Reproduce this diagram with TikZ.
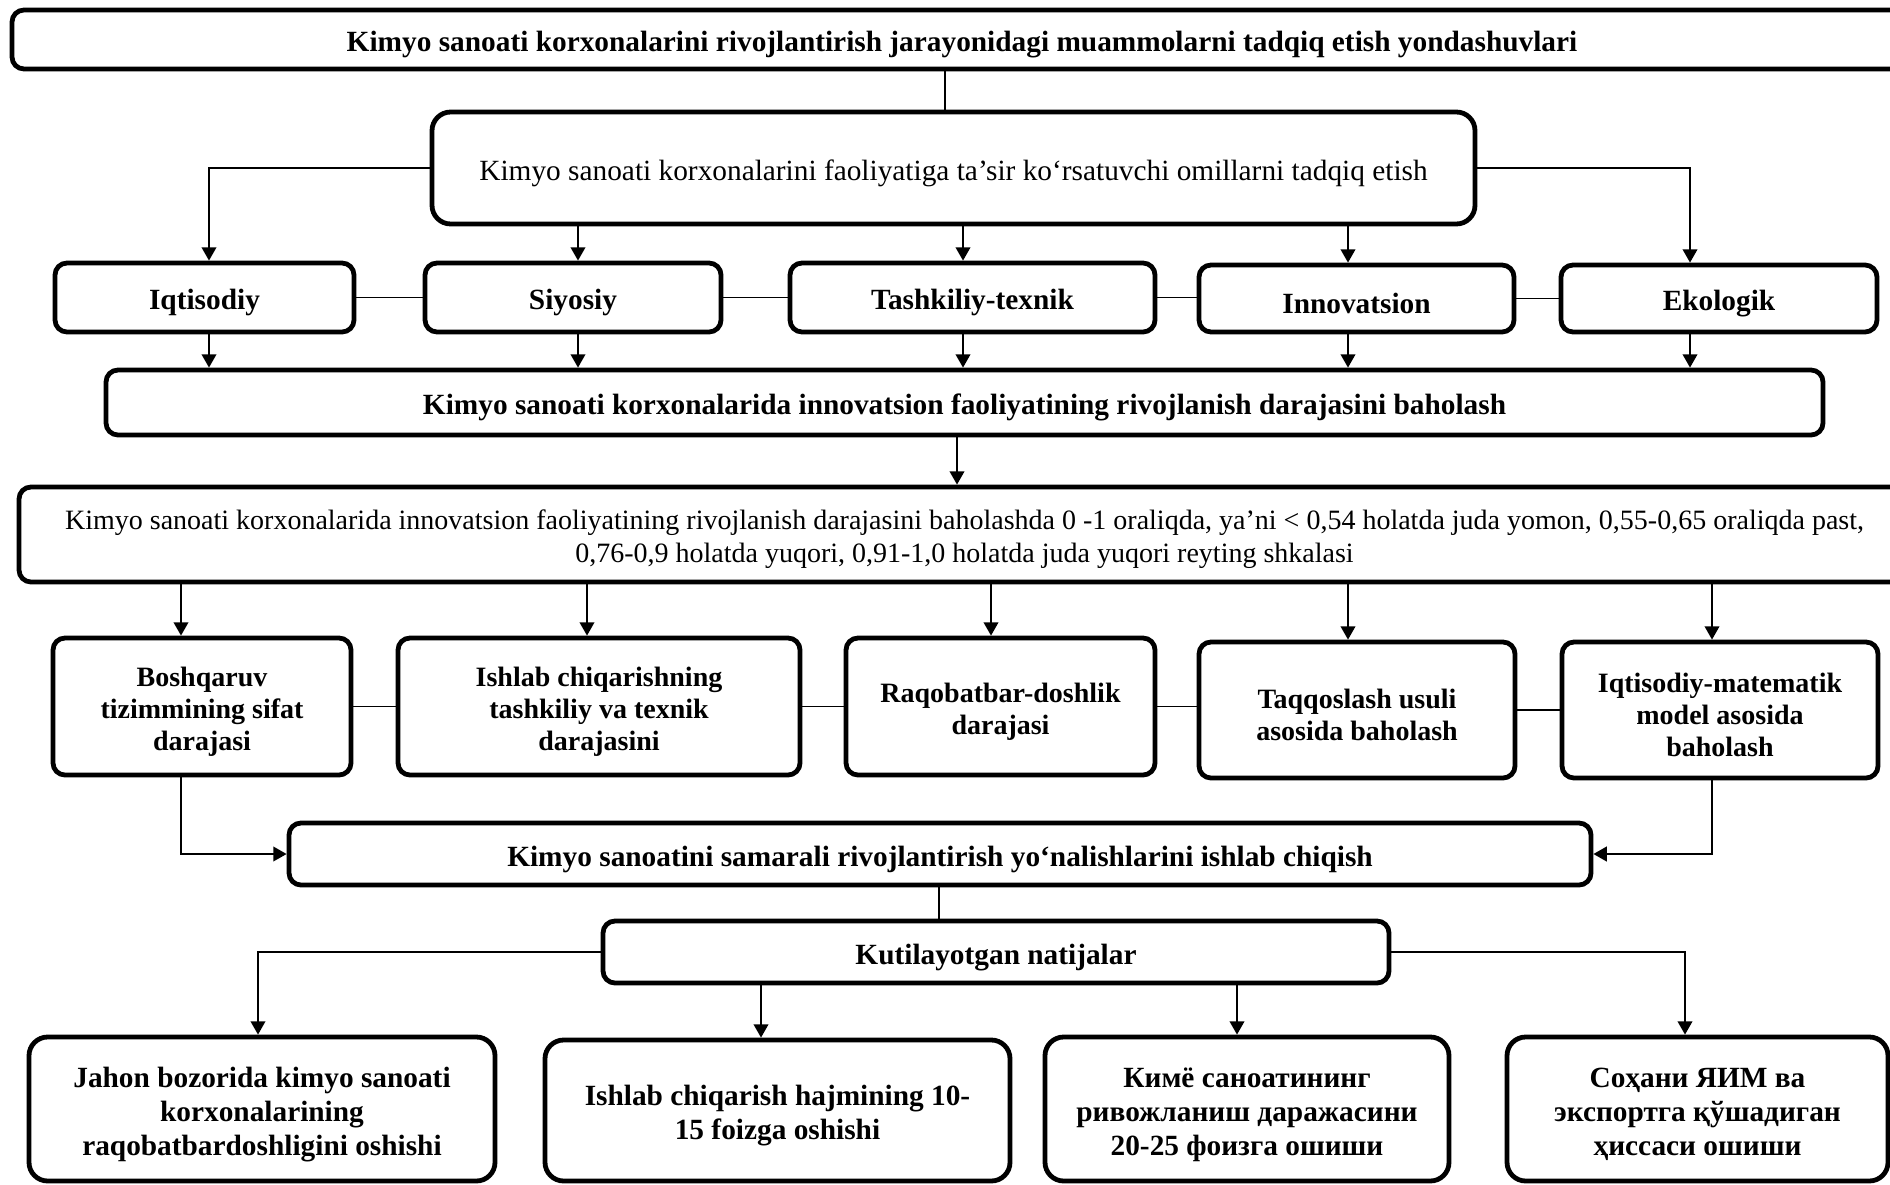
\documentclass[tikz,border=0pt]{standalone}
\usepackage{fontspec}
\setmainfont{Liberation Serif}
\usetikzlibrary{arrows.meta}
% a tall zero-width strut that lowers the text in its box a little
\newcommand\tallstrut{\rule{0pt}{1.05em}}
\begin{document}
\begin{tikzpicture}[x=0.75pt,y=-0.75pt,
  % a box given by its corners x1/y1/x2/y2
  span/.style args={#1/#2/#3/#4}{minimum width={(#3-#1)*0.75pt},
    minimum height={(#4-#2)*0.75pt}, at={({(#1+#3)/2},{(#2+#4)/2})}},
  box/.style={draw,line width=3.6pt,rounded corners=9pt,inner sep=0pt,align=center,
    font=\fontsize{22}{24}\selectfont\bfseries},
  plainbox/.style={box,font=\fontsize{22}{25}\selectfont},
  midbox/.style={box,font=\fontsize{21}{24}\selectfont\bfseries},
  bigbox/.style={box,rounded corners=14pt,font=\fontsize{22}{25.5}\selectfont\bfseries},
  link/.style={line width=1.4pt},
  arr/.style={link,-{Triangle[length=10pt,width=11pt]}}]
\useasboundingbox (0,0) rectangle (1890,1184);
\clip (0,0) rectangle (1890,1184);

% column positions of the vertical connectors
\coordinate (c0) at (945,0);
\coordinate (k1) at (209,0);
\coordinate (k2) at (578,0);
\coordinate (k3) at (963,0);
\coordinate (k4) at (1348,0);
\coordinate (k5) at (1690,0);
\coordinate (m)  at (957,0);
\coordinate (r1) at (181,0);
\coordinate (r2) at (587,0);
\coordinate (r3) at (991,0);
\coordinate (r4) at (1348,0);
\coordinate (r5) at (1712,0);
\coordinate (n)  at (939,0);
\coordinate (p1) at (258,0);
\coordinate (p2) at (761,0);
\coordinate (p3) at (1237,0);
\coordinate (p4) at (1685,0);

% header
\node[box,span=12/10/1912/69] (top)
  {\tallstrut Kimyo sanoati korxonalarini rivojlantirish jarayonidagi muammolarni tadqiq etish yondashuvlari};
\node[plainbox,rounded corners=14pt,span=432/112/1475/224] (b2)
  {\tallstrut Kimyo sanoati korxonalarini faoliyatiga ta’sir ko‘rsatuvchi omillarni tadqiq etish};

% factors
\node[box,span=55/263/354/332] (iq) {\tallstrut Iqtisodiy};
\node[box,span=425/263/721/332] (si) {\tallstrut Siyosiy};
\node[box,span=790/263/1155/332] (ta) {\tallstrut Tashkiliy-texnik};
\node[box,span=1199/265/1514/332] (in) {\tallstrut Innovatsion};
\node[box,span=1561/265/1877/332] (ek) {\tallstrut Ekologik};

\node[box,span=106/370/1823/435] (bar)
  {\tallstrut Kimyo sanoati korxonalarida innovatsion faoliyatining rivojlanish darajasini baholash};
\node[plainbox,font=\fontsize{21}{24.5}\selectfont,span=19/487/1910/582] (b4)
  {\tallstrut Kimyo sanoati korxonalarida innovatsion faoliyatining rivojlanish darajasini baholashda 0 -1 oraliqda, ya’ni < 0,54 holatda juda yomon, 0,55-0,65 oraliqda past,\\
   0,76-0,9 holatda yuqori, 0,91-1,0 holatda juda yuqori reyting shkalasi};

% assessment methods
\node[midbox,span=53/638/351/775] (bo) {\tallstrut Boshqaruv\\tizimmining sifat\\darajasi};
\node[midbox,span=398/638/800/775] (is) {\tallstrut Ishlab chiqarishning\\tashkiliy va texnik\\darajasini};
\node[midbox,span=846/638/1155/775] (ra) {\tallstrut Raqobatbar-doshlik\\darajasi};
\node[midbox,span=1199/642/1515/778] (tq) {\tallstrut Taqqoslash usuli\\asosida baholash};
\node[midbox,span=1562/642/1878/778] (im) {\tallstrut Iqtisodiy-matematik\\model asosida\\baholash};

\node[box,span=289/823/1591/885] (b5)
  {\tallstrut Kimyo sanoatini samarali rivojlantirish yo‘nalishlarini ishlab chiqish};
\node[box,span=603/921/1389/983] (b6) {\tallstrut Kutilayotgan natijalar};

% expected results
\node[bigbox,span=29/1037/495/1181] (ja)
  {\tallstrut Jahon bozorida kimyo sanoati\\korxonalarining\\raqobatbardoshligini oshishi};
\node[bigbox,span=545/1040/1010/1181] (ih)
  {\tallstrut Ishlab chiqarish hajmining 10-\\15 foizga oshishi};
\node[bigbox,span=1045/1037/1449/1181] (ki)
  {\tallstrut Кимё саноатининг\\ривожланиш даражасини\\20-25 фоизга ошиши};
\node[bigbox,span=1507/1037/1888/1181] (so)
  {\tallstrut Соҳани ЯИМ ва\\экспортга қўшадиган\\ҳиссаси ошиши};

% connectors: header and factors
\draw[link] (top.south -| c0) -- (b2.north -| c0);
\draw[arr] (b2.west) -- (b2.west -| k1) -- (iq.north -| k1);
\draw[arr] (b2.east) -- (b2.east -| k5) -- (ek.north -| k5);
\draw[arr] (b2.south -| k2) -- (si.north -| k2);
\draw[arr] (b2.south -| k3) -- (ta.north -| k3);
\draw[arr] (b2.south -| k4) -- (in.north -| k4);
\draw[link] (iq.east) -- (iq.east -| si.west);
\draw[link] (si.east) -- (si.east -| ta.west);
\draw[link] (ta.east) -- (ta.east -| in.west);
\draw[link] (in.east) -- (in.east -| ek.west);
\draw[arr] (iq.south -| k1) -- (bar.north -| k1);
\draw[arr] (si.south -| k2) -- (bar.north -| k2);
\draw[arr] (ta.south -| k3) -- (bar.north -| k3);
\draw[arr] (in.south -| k4) -- (bar.north -| k4);
\draw[arr] (ek.south -| k5) -- (bar.north -| k5);
\draw[arr] (bar.south -| m) -- (b4.north -| m);

% connectors: assessment methods
\draw[arr] (b4.south -| r1) -- (bo.north -| r1);
\draw[arr] (b4.south -| r2) -- (is.north -| r2);
\draw[arr] (b4.south -| r3) -- (ra.north -| r3);
\draw[arr] (b4.south -| r4) -- (tq.north -| r4);
\draw[arr] (b4.south -| r5) -- (im.north -| r5);
\draw[link] (bo.east) -- (bo.east -| is.west);
\draw[link] (is.east) -- (is.east -| ra.west);
\draw[link] (ra.east) -- (ra.east -| tq.west);
\draw[link] (tq.east) -- (tq.east -| im.west);
\draw[arr] (bo.south -| r1) -- (r1 |- b5.west) -- (b5.west);
\draw[arr] (im.south -| r5) -- (r5 |- b5.east) -- (b5.east);

% connectors: expected results
\draw[link] (b5.south -| n) -- (b6.north -| n);
\draw[arr] (b6.west) -- (b6.west -| p1) -- (ja.north -| p1);
\draw[arr] (b6.east) -- (b6.east -| p4) -- (so.north -| p4);
\draw[arr] (b6.south -| p2) -- (ih.north -| p2);
\draw[arr] (b6.south -| p3) -- (ki.north -| p3);
\end{tikzpicture}
\end{document}
